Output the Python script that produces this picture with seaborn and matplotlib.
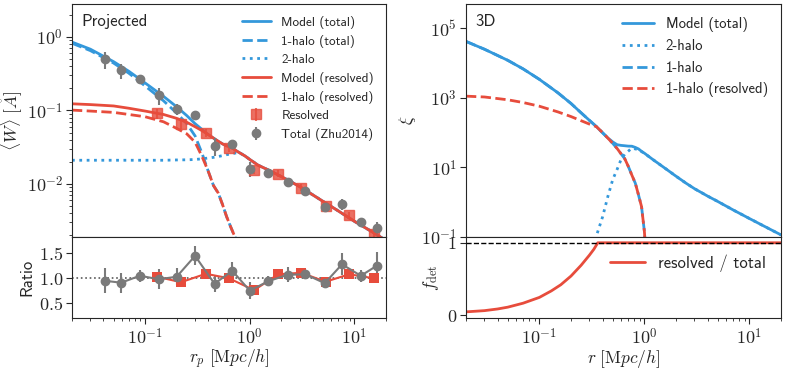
import numpy as np
import matplotlib
matplotlib.use('Agg')
import matplotlib.pyplot as plt
import matplotlib.ticker as mticker
from matplotlib.lines import Line2D
import seaborn as sns

# Projected: Zhu2014 total and resolved measurements
rp_tot = [0.041, 0.059, 0.089, 0.135, 0.20, 0.30, 0.46, 0.68, 1.0, 1.5, 2.3, 3.4, 5.2, 7.6, 11.5, 16.3]
w_tot = [0.50, 0.35, 0.27, 0.16, 0.104, 0.087, 0.033, 0.035, 0.016, 0.014, 0.0107, 0.0081, 0.0049, 0.0053, 0.0030, 0.0025]
w_tot_err = [0.13, 0.08, 0.03, 0.04, 0.017, 0.011, 0.009, 0.005, 0.0037, 0.0015, 0.0015, 0.0007, 0.0005, 0.0009, 0.0003, 0.00055]
ratio_tot = [0.95, 0.91, 1.05, 0.98, 1.03, 1.45, 0.89, 1.15, 0.75, 0.94, 1.07, 1.08, 0.90, 1.28, 1.05, 1.25]
ratio_tot_err = [0.25, 0.2, 0.12, 0.2, 0.17, 0.19, 0.16, 0.17, 0.17, 0.1, 0.15, 0.1, 0.09, 0.22, 0.12, 0.28]

rp_res = [0.13, 0.22, 0.38, 0.63, 1.1, 1.87, 3.1, 5.3, 8.9, 15.2]
w_res = [0.091, 0.066, 0.050, 0.031, 0.0155, 0.0138, 0.0089, 0.0050, 0.0038, 0.0021]
w_res_err = [0.015, 0.010, 0.006, 0.004, 0.002, 0.0015, 0.001, 0.0005, 0.0004, 0.0002]
ratio_res = [1.03, 0.92, 1.09, 1.0, 0.76, 1.08, 1.11, 0.93, 1.08, 1.0]

# Projected model curves
rp_model = [0.02, 0.03, 0.05, 0.07, 0.1, 0.15, 0.2, 0.25, 0.3, 0.35, 0.4, 0.45, 0.5, 0.55, 0.6,
            0.65, 0.7, 0.75, 0.8, 0.9, 1.0, 1.2, 1.5, 2, 3, 5, 7, 10, 15, 20]
w_model_tot = [0.85, 0.68, 0.46, 0.34, 0.236, 0.155, 0.112, 0.085, 0.066, 0.055, 0.047, 0.042, 0.038, 0.035, 0.033,
               0.032, 0.030, 0.028, 0.0265, 0.024, 0.0215, 0.018, 0.0155, 0.0126, 0.0092, 0.0058, 0.0043, 0.0031, 0.0022, 0.0017]
w_model_res = [0.123, 0.12, 0.115, 0.107, 0.098, 0.088, 0.078, 0.069, 0.060, 0.053, 0.047, 0.042, 0.038, 0.035, 0.033,
               0.032, 0.030, 0.028, 0.0265, 0.024, 0.0215, 0.018, 0.0155, 0.0126, 0.0092, 0.0058, 0.0043, 0.0031, 0.0022, 0.0017]
w_2h = [0.021, 0.021, 0.021, 0.021, 0.021, 0.021, 0.0212, 0.0213, 0.0215, 0.022, 0.0225, 0.023, 0.0236, 0.0243, 0.025,
        0.0255, 0.026, 0.0265, 0.0265, 0.024, 0.0215, 0.018, 0.0155, 0.0126, 0.0092, 0.0058, 0.0043, 0.0031, 0.0022, 0.0017]
rp_1h = [0.02, 0.03, 0.05, 0.07, 0.1, 0.15, 0.2, 0.25, 0.3, 0.35, 0.4, 0.45, 0.5, 0.55, 0.6,
         0.65, 0.7, 0.75, 0.8, 0.9, 1.0]
w_1h_tot = [0.82, 0.65, 0.44, 0.32, 0.215, 0.135, 0.092, 0.066, 0.045, 0.026, 0.0150, 0.0095, 0.0075, 0.0052, 0.0036,
            0.0027, 0.0021, 0.0017, 0.0012, 0.0005, 0.0001]
w_1h_res = [0.101, 0.098, 0.094, 0.088, 0.082, 0.070, 0.057, 0.048, 0.037, 0.0235, 0.0150, 0.0095, 0.0075, 0.0052, 0.0036,
            0.0027, 0.0021, 0.0017, 0.0012, 0.0005, 0.0001]

# 3D model curves
r3d = [0.02, 0.03, 0.05, 0.07, 0.1, 0.15, 0.2, 0.25, 0.3, 0.35, 0.4, 0.45, 0.5, 0.55, 0.6, 0.65, 0.7,
       0.76, 0.82, 0.88, 0.94, 1.0, 1.2, 1.5, 2, 2.5, 3, 4, 5, 7, 10, 15, 20]
xi_tot = [4.2e4, 2.5e4, 1.2e4, 6800, 3400, 1400, 690, 370, 225, 148, 98, 70, 54, 45, 43, 42, 41,
          40.7, 37.6, 34, 29, 25.7, 17, 10.5, 5.6, 3.5, 2.45, 1.5, 1.05, 0.60, 0.34, 0.18, 0.115]
r3d_1h = [0.02, 0.03, 0.05, 0.07, 0.1, 0.15, 0.2, 0.25, 0.3, 0.35, 0.4, 0.45, 0.5, 0.55, 0.6, 0.65, 0.7,
          0.76, 0.82, 0.88, 0.94, 1.0, 1.02, 1.04]
xi_1h_tot = [4.2e4, 2.5e4, 1.2e4, 6800, 3400, 1400, 690, 370, 225, 148, 100, 69, 49, 35, 24.5, 17.8, 11,
             6.0, 3.5, 1.6, 0.74, 0.145, 0.06, 0.01]
xi_1h_res = [1120, 1060, 880, 735, 575, 395, 290, 220, 176, 148, 100, 69, 49, 35, 24.5, 17.8, 11,
             6.0, 3.5, 1.6, 0.74, 0.145, 0.06, 0.01]
r3d_2h = [0.33, 0.35, 0.4, 0.45, 0.5, 0.55, 0.6, 0.65, 0.7, 0.76, 0.82, 0.88, 0.94, 1.0,
          1.2, 1.5, 2, 2.5, 3, 4, 5, 7, 10, 15, 20]
xi_2h = [0.05, 0.11, 0.38, 1.5, 4.5, 8.8, 17, 24, 29, 36, 34, 32.4, 28.5, 25.5,
         17, 10.5, 5.6, 3.5, 2.45, 1.5, 1.05, 0.60, 0.34, 0.18, 0.115]

# detected fraction
r_fdet = [0.02, 0.03, 0.04, 0.05, 0.07, 0.1, 0.13, 0.16, 0.2, 0.25, 0.3, 0.33, 0.36, 1.0, 20]
f_det = [0.045, 0.062, 0.085, 0.11, 0.165, 0.245, 0.335, 0.42, 0.54, 0.69, 0.83, 0.91, 1.0, 1.0, 1.0]

blue = '#3498db'
red = '#e74c3c'
gray = '#7a7a7a'

sns.set_style('ticks')
plt.rcParams['font.family'] = ['cmss10', 'DejaVu Sans']
plt.rcParams['mathtext.fontset'] = 'cm'
plt.rcParams['axes.unicode_minus'] = False
plt.rcParams['axes.formatter.use_mathtext'] = True

fig = plt.figure(figsize=(7.97, 3.70), dpi=100)
ax1 = fig.add_axes([0.0903, 0.3595, 0.394, 0.6297])
ax2 = fig.add_axes([0.0903, 0.1405, 0.394, 0.219])
ax3 = fig.add_axes([0.5847, 0.3595, 0.3952, 0.6297])
ax4 = fig.add_axes([0.5847, 0.1405, 0.3952, 0.219])

lw = 2

# ---- projected
sns.lineplot(x=rp_model, y=w_model_tot, ax=ax1, color=blue, lw=lw)
sns.lineplot(x=rp_1h, y=w_1h_tot, ax=ax1, color=blue, lw=lw, linestyle='--')
sns.lineplot(x=rp_model, y=w_2h, ax=ax1, color=blue, lw=lw, linestyle=':')
sns.lineplot(x=rp_model, y=w_model_res, ax=ax1, color=red, lw=lw)
sns.lineplot(x=rp_1h, y=w_1h_res, ax=ax1, color=red, lw=lw, linestyle='--')
ax1.errorbar(rp_res, w_res, yerr=w_res_err, fmt='s', color=red, ms=6.5, alpha=0.8, elinewidth=1.5, capsize=0)
ax1.errorbar(rp_tot, w_tot, yerr=w_tot_err, fmt='o', color=gray, ms=6, elinewidth=1.5, capsize=0)

ax2.axhline(1.0, color='.35', ls=':', lw=1.2)
ax2.errorbar(rp_tot, ratio_tot, yerr=ratio_tot_err, fmt='o-', color=gray, ms=6, lw=1.5, elinewidth=1.5, capsize=0)
sns.lineplot(x=rp_res, y=ratio_res, ax=ax2, color=red, lw=1.5, marker='s', markersize=7,
             markeredgewidth=0)

# ---- 3D
sns.lineplot(x=r3d, y=xi_tot, ax=ax3, color=blue, lw=lw)
sns.lineplot(x=r3d_2h, y=xi_2h, ax=ax3, color=blue, lw=lw, linestyle=':')
sns.lineplot(x=r3d_1h, y=xi_1h_tot, ax=ax3, color=blue, lw=lw, linestyle='--')
sns.lineplot(x=r3d_1h, y=xi_1h_res, ax=ax3, color=red, lw=lw, linestyle='--')

sns.lineplot(x=r_fdet, y=f_det, ax=ax4, color=red, lw=lw, zorder=2)
ax4.axhline(1.0, color='k', ls='--', lw=1, zorder=3)


def log_fmt(v, pos):
    e = int(round(np.log10(v)))
    return r'$10^{%d}$' % e


for ax in (ax1, ax2, ax3, ax4):
    ax.set_xscale('log')
    ax.set_xlim(0.02, 20)
    ax.tick_params(which='both', direction='out', top=False, right=False)
    ax.tick_params(which='major', length=4, width=0.8, labelsize=13, pad=2.5)
    ax.tick_params(which='minor', length=2.5, width=0.6)
    ax.xaxis.set_major_formatter(mticker.FuncFormatter(log_fmt))

for ax in (ax1, ax3):
    ax.tick_params(which='both', bottom=False, labelbottom=False)
    ax.set_xlabel('')

ax1.set_yscale('log')
ax1.set_ylim(0.0019, 2.8)
ax1.yaxis.set_major_formatter(mticker.FuncFormatter(log_fmt))
ax1.set_ylabel(r'$\langle W\rangle\ [\mathring{A}]$', fontsize=12.5, labelpad=1)
ax1.text(0.03, 0.955, 'Projected', transform=ax1.transAxes, fontsize=12, va='top', ha='left')

ax2.set_ylim(0.2, 1.83)
ax2.set_yticks([0.5, 1.0, 1.5])
ax2.yaxis.set_major_formatter(mticker.FuncFormatter(lambda v, p: r'$%.1f$' % v))
ax2.set_ylabel('Ratio', fontsize=12, labelpad=3)
ax2.set_xlabel(r'$r_p\ [{\rm M}pc/h]$', fontsize=12.5, labelpad=0)

ax3.set_yscale('log')
ax3.set_ylim(0.1, 5e5)
ax3.yaxis.set_major_locator(mticker.FixedLocator([0.1, 10, 1e3, 1e5]))
ax3.yaxis.set_minor_locator(mticker.NullLocator())
ax3.yaxis.set_major_formatter(mticker.FuncFormatter(log_fmt))
ax3.set_ylabel(r'$\xi$', fontsize=12.5, labelpad=2)
ax3.text(0.03, 0.955, '3D', transform=ax3.transAxes, fontsize=12, va='top', ha='left')

ax4.set_ylim(-0.04, 1.08)
ax4.set_yticks([0, 1])
ax4.yaxis.set_major_formatter(mticker.FuncFormatter(lambda v, p: r'$%d$' % v))
ax4.set_ylabel(r'$f_{\rm det}$', fontsize=12.5, labelpad=4)
ax4.set_xlabel(r'$r\ [{\rm M}pc/h]$', fontsize=12.5, labelpad=0)

# legends
h_left = [
    Line2D([], [], color=blue, lw=lw),
    Line2D([], [], color=blue, lw=lw, ls='--'),
    Line2D([], [], color=blue, lw=lw, ls=':'),
    Line2D([], [], color=red, lw=lw),
    Line2D([], [], color=red, lw=lw, ls='--'),
    ax1.containers[0],
    ax1.containers[1],
]
l_left = ['Model (total)', '1-halo (total)', '2-halo', 'Model (resolved)', '1-halo (resolved)',
          'Resolved', 'Total (Zhu2014)']
ax1.legend(h_left, l_left, loc='upper right', frameon=False, fontsize=9.5, handlelength=2.2,
           labelspacing=0.45)

h_right = [
    Line2D([], [], color=blue, lw=lw),
    Line2D([], [], color=blue, lw=lw, ls=':'),
    Line2D([], [], color=blue, lw=lw, ls='--'),
    Line2D([], [], color=red, lw=lw, ls='--'),
]
ax3.legend(h_right, ['Model (total)', '2-halo', '1-halo', '1-halo (resolved)'], loc='upper right',
           frameon=False, fontsize=10.5, handlelength=2.2, labelspacing=0.5)

ax4.legend([Line2D([], [], color=red, lw=lw)], ['resolved / total'], loc='upper right',
           bbox_to_anchor=(0.975, 0.87), borderaxespad=0, frameon=False, fontsize=12, handlelength=2.1)

fig.savefig('out.png', dpi=100)
